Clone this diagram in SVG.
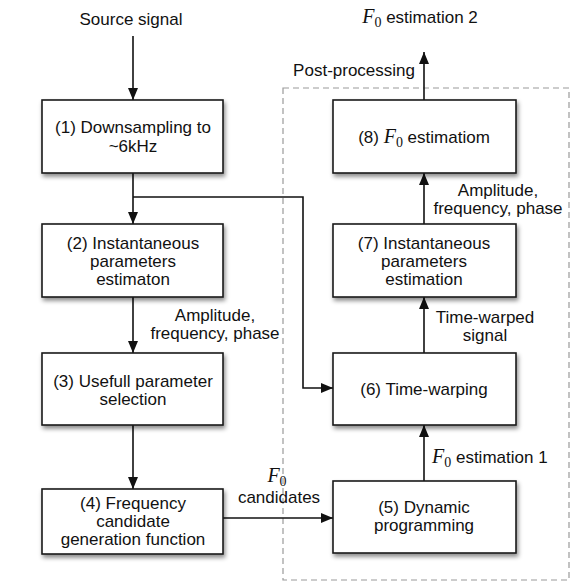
<svg xmlns="http://www.w3.org/2000/svg" width="573" height="583" viewBox="0 0 573 583">
<defs>
<style>
.box{fill:#fff;stroke:#1a1a1a;stroke-width:1.6;filter:url(#sh)}
.t{font-family:"Liberation Sans",Arial,sans-serif;font-size:17px;fill:#111;text-anchor:middle}
.l{font-family:"Liberation Sans",Arial,sans-serif;font-size:17px;fill:#111}
.m{font-family:"Liberation Serif","Times New Roman",serif;font-style:italic;font-size:20px}
.s{font-family:"Liberation Serif","Times New Roman",serif;font-style:normal;font-size:14px}
.c{fill:none;stroke:#111;stroke-width:1.6}
</style>
<filter id="sh" x="-10%" y="-10%" width="125%" height="135%">
<feDropShadow dx="1.5" dy="3" stdDeviation="2" flood-color="#000" flood-opacity="0.45"/>
</filter>
<marker id="ah" markerUnits="userSpaceOnUse" markerWidth="12" markerHeight="10" refX="12" refY="5" orient="auto">
<path d="M0,0 L12,5 L0,10 z" fill="#111"/>
</marker>
</defs>
<rect width="573" height="583" fill="#fff"/>
<rect x="283" y="88" width="286" height="492" fill="none" stroke="#9a9a9a" stroke-width="1.2" stroke-dasharray="6,4"/>

<g id="connectors">
<line class="c" x1="133" y1="36" x2="133" y2="100" marker-end="url(#ah)"/>
<line class="c" x1="133" y1="173" x2="133" y2="224" marker-end="url(#ah)"/>
<polyline class="c" points="133,197 303,197 303,388 333,388" marker-end="url(#ah)"/>
<line class="c" x1="133" y1="297" x2="133" y2="353" marker-end="url(#ah)"/>
<line class="c" x1="133" y1="425" x2="133" y2="489" marker-end="url(#ah)"/>
<line class="c" x1="223" y1="518" x2="333" y2="518" marker-end="url(#ah)"/>
<line class="c" x1="424" y1="481" x2="424" y2="425" marker-end="url(#ah)"/>
<line class="c" x1="424" y1="353" x2="424" y2="297" marker-end="url(#ah)"/>
<line class="c" x1="424" y1="224" x2="424" y2="173" marker-end="url(#ah)"/>
<line class="c" x1="424" y1="100" x2="424" y2="52" marker-end="url(#ah)"/>
</g>

<g id="labels">
<text class="t" x="131" y="25">Source signal</text>
<text class="t" x="420" y="23"><tspan class="m">F</tspan><tspan class="s" dy="4">0</tspan><tspan dy="-4"> estimation 2</tspan></text>
<text class="l" x="415" y="76" text-anchor="end">Post-processing</text>
<text class="t" x="215" y="321">Amplitude,</text>
<text class="t" x="215" y="339">frequency, phase</text>
<text class="t" x="498" y="196">Amplitude,</text>
<text class="t" x="498" y="214">frequency, phase</text>
<text class="t" x="485" y="323">Time-warped</text>
<text class="t" x="485" y="341">signal</text>
<text class="l" x="432" y="463"><tspan class="m">F</tspan><tspan class="s" dy="4">0</tspan><tspan dy="-4"> estimation 1</tspan></text>
<text class="t" x="277" y="482"><tspan class="m">F</tspan><tspan class="s" dy="4">0</tspan></text>
<text class="t" x="279" y="503">candidates</text>
</g>

<g id="n1"><rect class="box" x="42" y="100" width="181" height="73"/>
<text class="t" x="133" y="133">(1) Downsampling to</text>
<text class="t" x="133" y="152">~6kHz</text></g>

<g id="n2"><rect class="box" x="42" y="224" width="181" height="73"/>
<text class="t" x="133" y="249">(2) Instantaneous</text>
<text class="t" x="133" y="267">parameters</text>
<text class="t" x="133" y="285">estimaton</text></g>

<g id="n3"><rect class="box" x="42" y="353" width="181" height="72"/>
<text class="t" x="133" y="387">(3) Usefull parameter</text>
<text class="t" x="133" y="405">selection</text></g>

<g id="n4"><rect class="box" x="42" y="489" width="181" height="65"/>
<text class="t" x="133" y="509">(4) Frequency</text>
<text class="t" x="133" y="527">candidate</text>
<text class="t" x="133" y="545">generation function</text></g>

<g id="n5"><rect class="box" x="333" y="481" width="183" height="72"/>
<text class="t" x="424" y="513">(5) Dynamic</text>
<text class="t" x="424" y="531">programming</text></g>

<g id="n6"><rect class="box" x="333" y="353" width="183" height="72"/>
<text class="t" x="424" y="395">(6) Time-warping</text></g>

<g id="n7"><rect class="box" x="333" y="224" width="183" height="73"/>
<text class="t" x="424" y="249">(7) Instantaneous</text>
<text class="t" x="424" y="267">parameters</text>
<text class="t" x="424" y="285">estimation</text></g>

<g id="n8"><rect class="box" x="333" y="100" width="183" height="73"/>
<text class="t" x="424" y="143">(8) <tspan class="m">F</tspan><tspan class="s" dy="4">0</tspan><tspan dy="-4"> estimatiom</tspan></text></g>
</svg>
